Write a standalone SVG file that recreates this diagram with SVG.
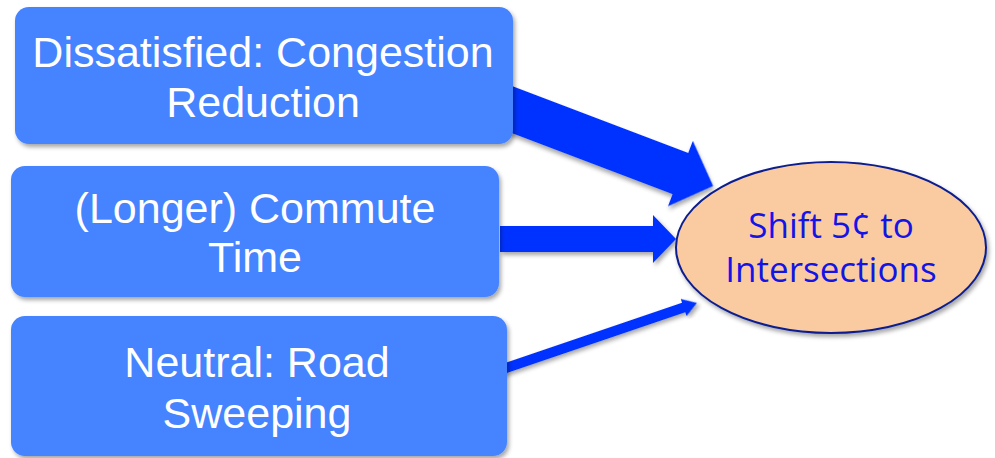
<svg xmlns="http://www.w3.org/2000/svg" width="995" height="458" viewBox="0 0 995 458">
  <defs>
    <filter id="sh" x="-10%" y="-10%" width="120%" height="130%">
      <feDropShadow dx="2" dy="3" stdDeviation="2" flood-color="#000" flood-opacity="0.35"/>
    </filter>
    <style>
      .box { fill: #4583FF; filter: url(#sh); }
      .btxt { fill: #FFFFFF; font-family: "Liberation Sans", Arial, sans-serif; font-size: 43px; text-anchor: middle; }
      .arr { fill: #0433FF; filter: url(#sh); }
      .ell { fill: #FACBA0; stroke: #0A1F8F; stroke-width: 2; filter: url(#sh); }
      .etxt { fill: #1414E6; font-family: "Open Sans", "Liberation Sans", sans-serif; font-size: 35px; text-anchor: middle; }
    </style>
  </defs>
  <rect width="995" height="458" fill="#FFFFFF"/>
  <g id="connectors">
    <g transform="translate(500,105) rotate(20.8)">
      <polygon class="arr" points="0,-22 193,-22 193,-35 228,0 193,35 193,22 0,22"/>
    </g>
    <polygon class="arr" points="500,226 653,226 653,215 676,239 653,263 653,252 500,252"/>
    <g transform="translate(500,370) rotate(-18.8)">
      <polygon class="arr" points="0,-5 194,-5 194,-9 208,0 194,9 194,5 0,5"/>
    </g>
  </g>
  <g id="node-congestion">
    <rect class="box" x="15" y="7" width="498" height="137" rx="14"/>
    <text class="btxt" x="263" y="67">Dissatisfied: Congestion</text>
    <text class="btxt" x="263" y="117">Reduction</text>
  </g>
  <g id="node-commute">
    <rect class="box" x="11" y="166" width="488" height="131" rx="14"/>
    <text class="btxt" x="255" y="223">(Longer) Commute</text>
    <text class="btxt" x="255" y="272">Time</text>
  </g>
  <g id="node-sweeping">
    <rect class="box" x="11" y="316" width="496" height="140" rx="14"/>
    <text class="btxt" x="257" y="377">Neutral: Road</text>
    <text class="btxt" x="257" y="428">Sweeping</text>
  </g>
  <g id="node-shift">
    <ellipse class="ell" cx="831" cy="247.5" rx="155" ry="85.5"/>
    <text class="etxt" x="831" y="238">Shift 5¢ to</text>
    <text class="etxt" x="831" y="282">Intersections</text>
  </g>
</svg>
